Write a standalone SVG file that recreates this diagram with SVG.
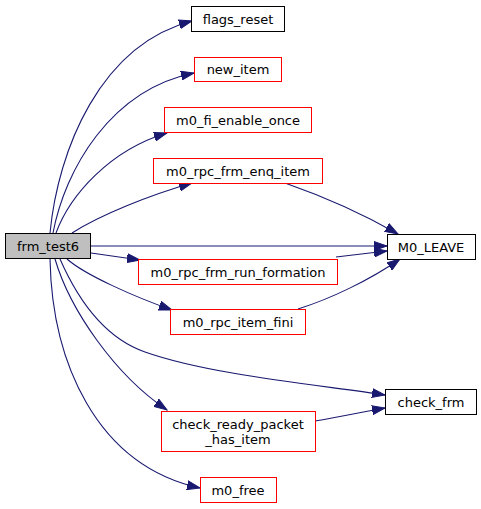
<svg xmlns="http://www.w3.org/2000/svg" width="481" height="509" viewBox="0 0 481 509">
<style>
.n rect{fill:#fff;stroke:#000;stroke-width:1}
.n.r rect{stroke:#ff0000}
.n.root rect{fill:#bfbfbf}
.n text{font-family:"DejaVu Sans","Liberation Sans",sans-serif;font-size:13px;text-anchor:middle;fill:#000}
.e path{fill:none;stroke:#191970;stroke-width:1.1}
</style>
<defs>
<marker id="ah" markerUnits="userSpaceOnUse" markerWidth="14" markerHeight="10" refX="13" refY="5" orient="auto">
<path d="M0,0.5 L13,5 L0,9.5 z" fill="#191970" stroke="#191970" stroke-width="1"/>
</marker>
</defs>
<rect width="481" height="509" fill="#fff"/>
<g id="edges" class="e">
<path marker-end="url(#ah)" d="M50,233 C58,150 100,45 192,21"/>
<path marker-end="url(#ah)" d="M53,233 C65,170 110,90 194,73"/>
<path marker-end="url(#ah)" d="M56,233 C70,195 110,150 167,133"/>
<path marker-end="url(#ah)" d="M72,233 C100,215 150,195 192,183"/>
<path marker-end="url(#ah)" d="M91,246 L387,246"/>
<path marker-end="url(#ah)" d="M91,253 L140,260"/>
<path marker-end="url(#ah)" d="M67,259 C85,275 135,297 172,310"/>
<path marker-end="url(#ah)" d="M60,259 C78,300 105,338 145,352 C210,375 320,385 385,395"/>
<path marker-end="url(#ah)" d="M55,259 C70,310 115,375 167,410"/>
<path marker-end="url(#ah)" d="M50,259 C52,360 95,465 200,488"/>
<path marker-end="url(#ah)" d="M285,183 C325,197 365,215 398,234"/>
<path marker-end="url(#ah)" d="M336,257 C352,255 370,253 387,251"/>
<path marker-end="url(#ah)" d="M298,309 C330,299 370,280 400,259"/>
<path marker-end="url(#ah)" d="M315,421 C340,417 362,412 385,408"/>
</g>
<g id="frm_test6" class="n root"><rect x="5.5" y="233.5" width="85" height="25"/><text x="48" y="250.5">frm_test6</text></g>
<g id="flags_reset" class="n"><rect x="191.5" y="6.5" width="93" height="25"/><text x="238" y="23.5">flags_reset</text></g>
<g id="new_item" class="n r"><rect x="194.5" y="57.5" width="87" height="24"/><text x="238" y="74">new_item</text></g>
<g id="m0_fi_enable_once" class="n r"><rect x="164.5" y="107.5" width="147" height="25"/><text x="238" y="124.5">m0_fi_enable_once</text></g>
<g id="m0_rpc_frm_enq_item" class="n r"><rect x="153.5" y="158.5" width="169" height="25"/><text x="238" y="175.5">m0_rpc_frm_enq_item</text></g>
<g id="m0_rpc_frm_run_formation" class="n r"><rect x="138.5" y="259.5" width="199" height="25"/><text x="238" y="276.5">m0_rpc_frm_run_formation</text></g>
<g id="m0_rpc_item_fini" class="n r"><rect x="170.5" y="309.5" width="135" height="25"/><text x="238" y="326.5">m0_rpc_item_fini</text></g>
<g id="check_ready_packet_has_item" class="n r"><rect x="161.5" y="411.5" width="154" height="40" stroke="#ff0000" style="stroke:#ff0000"/><text x="238" y="428.5">check_ready_packet</text><text x="238" y="443.5">_has_item</text></g>
<g id="m0_free" class="n r"><rect x="200.5" y="477.5" width="76" height="25"/><text x="238" y="494.5">m0_free</text></g>
<g id="M0_LEAVE" class="n"><rect x="387.5" y="234.5" width="88" height="25"/><text x="431" y="251.5">M0_LEAVE</text></g>
<g id="check_frm" class="n"><rect x="385.5" y="389.5" width="91" height="25"/><text x="431" y="406.5">check_frm</text></g>
</svg>
